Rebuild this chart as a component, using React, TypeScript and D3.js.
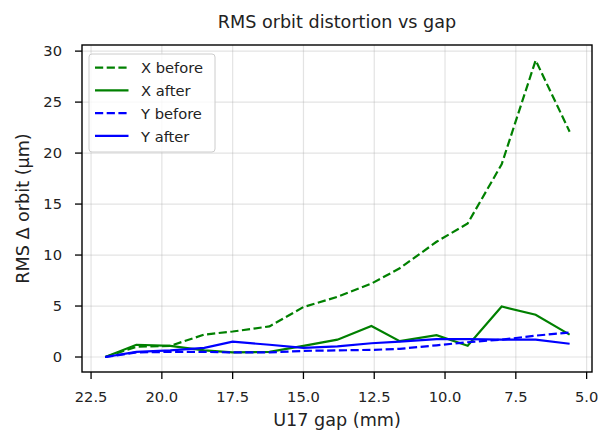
import React from "react";
import * as d3 from "d3";

const gaps = [22.0, 20.9, 19.7, 18.5, 17.5, 16.2, 15.0, 13.8, 12.6, 11.6, 10.3, 9.2, 8.0, 6.8, 5.6];
const xBefore = [0, 1.0, 1.1, 2.2, 2.5, 3.0, 4.9, 5.9, 7.2, 8.7, 11.3, 13.1, 18.9, 29.1, 22.1];
const xAfter = [0, 1.2, 1.1, 0.65, 0.45, 0.5, 1.1, 1.7, 3.05, 1.55, 2.15, 1.1, 4.95, 4.15, 2.2];
const yBefore = [0, 0.45, 0.5, 0.5, 0.45, 0.45, 0.6, 0.65, 0.7, 0.8, 1.15, 1.45, 1.7, 2.1, 2.4];
const yAfter = [0, 0.5, 0.65, 0.9, 1.5, 1.2, 0.9, 1.05, 1.35, 1.5, 1.75, 1.75, 1.7, 1.7, 1.3];
const xTicks = [22.5, 20.0, 17.5, 15.0, 12.5, 10.0, 7.5, 5.0];
const yTicks = [0, 5, 10, 15, 20, 25, 30];

const seriesList = [
  { name: "X before", values: xBefore, color: "green", dash: "8.2,3.5" },
  { name: "X after", values: xAfter, color: "green", dash: "" },
  { name: "Y before", values: yBefore, color: "blue", dash: "8.2,3.5" },
  { name: "Y after", values: yAfter, color: "blue", dash: "" },
];

const W = 600;
const H = 434;
const left = 82;
const right = 592;
const top = 45;
const bottom = 372;
const font = "DejaVu Sans";
const tickSize = 14.7;
const labelSize = 17.6;

export default function App() {
  const x = d3.scaleLinear().domain([22.82, 4.81]).range([left, right]);
  const y = d3.scaleLinear().domain([-1.47, 30.6]).range([bottom, top]);

  const line = (vals: number[]) =>
    d3.line<number>().x((_, i) => x(gaps[i])).y((d) => y(d))(vals) || "";

  return (
    <svg width={W} height={H} style={{ position: "absolute", left: 0, top: 0, background: "#fff" }}>
      <rect x={0} y={0} width={W} height={H} fill="#fff" />
      <defs>
        <clipPath id="plot">
          <rect x={left} y={top} width={right - left} height={bottom - top} />
        </clipPath>
      </defs>
      {/* grid */}
      {xTicks.map((t) => (
        <line key={"gx" + t} x1={x(t)} x2={x(t)} y1={top} y2={bottom} stroke="#b0b0b0" strokeOpacity={0.35} strokeWidth={1.2} />
      ))}
      {yTicks.map((t) => (
        <line key={"gy" + t} x1={left} x2={right} y1={y(t)} y2={y(t)} stroke="#b0b0b0" strokeOpacity={0.35} strokeWidth={1.2} />
      ))}
      <g clipPath="url(#plot)">
        {seriesList.map((s) => (
          <path key={s.name} d={line(s.values)} fill="none" stroke={s.color} strokeWidth={2.2} strokeDasharray={s.dash || undefined} />
        ))}
      </g>
      {/* frame */}
      <rect x={left} y={top} width={right - left} height={bottom - top} fill="none" stroke="#000" strokeWidth={1.4} />
      {/* x axis */}
      {xTicks.map((t) => (
        <g key={"tx" + t}>
          <line x1={x(t)} x2={x(t)} y1={bottom} y2={bottom + 7} stroke="#000" strokeWidth={1.3} />
          <text x={x(t)} y={402} fontFamily={font} fontSize={tickSize} textAnchor="middle" fill="#222">
            {t.toFixed(1)}
          </text>
        </g>
      ))}
      {yTicks.map((t) => (
        <g key={"ty" + t}>
          <line x1={left - 7} x2={left} y1={y(t)} y2={y(t)} stroke="#000" strokeWidth={1.3} />
          <text x={62} y={y(t) + 5.3} fontFamily={font} fontSize={tickSize} textAnchor="end" fill="#222">
            {t}
          </text>
        </g>
      ))}
      <text x={(left + right) / 2} y={426} fontFamily={font} fontSize={labelSize} textAnchor="middle" fill="#222">
        U17 gap (mm)
      </text>
      <text
        transform={`translate(28.5, ${(top + bottom) / 2}) rotate(-90)`}
        fontFamily={font}
        fontSize={labelSize}
        textAnchor="middle"
        fill="#222"
      >
        RMS Δ orbit (μm)
      </text>
      <text x={(left + right) / 2} y={28} fontFamily={font} fontSize={labelSize} textAnchor="middle" fill="#222">
        RMS orbit distortion vs gap
      </text>
      {/* legend */}
      <rect x={89} y={54} width={126} height={98} rx={3} fill="#fff" fillOpacity={0.8} stroke="#ccc" strokeWidth={1} />
      {seriesList.map((s, i) => (
        <g key={"lg" + s.name}>
          <line x1={95} x2={128.5} y1={67.7 + i * 22.7} y2={67.7 + i * 22.7} stroke={s.color} strokeWidth={2.2} strokeDasharray={s.dash || undefined} />
          <text x={141} y={72.5 + i * 23.1} fontFamily={font} fontSize={tickSize} fill="#222">
            {s.name}
          </text>
        </g>
      ))}
    </svg>
  );
}
